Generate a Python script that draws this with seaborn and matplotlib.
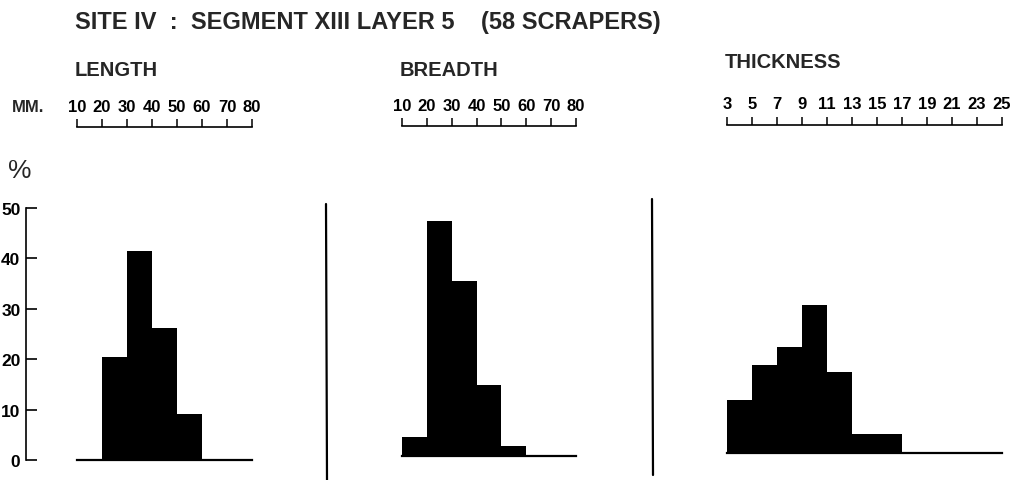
import matplotlib
matplotlib.use("Agg")
import matplotlib.pyplot as plt
from matplotlib.lines import Line2D
import seaborn as sns

# percentages of the 58 scrapers per class
length_edges = [10, 20, 30, 40, 50, 60, 70, 80]
length_pct = [0, 20.4, 41.5, 26.2, 9.1, 0, 0]

breadth_edges = [10, 20, 30, 40, 50, 60, 70, 80]
breadth_pct = [3.8, 46.7, 34.7, 14.0, 2.0, 0, 0]

thickness_edges = [3, 5, 7, 9, 11, 13, 15, 17, 19, 21, 23, 25]
thickness_pct = [10.6, 17.5, 21.0, 29.4, 16.0, 3.8, 3.8, 0, 0, 0, 0]

y_ticks = [0, 10, 20, 30, 40, 50]

title = "SITE IV  :  SEGMENT XIII LAYER 5    (58 SCRAPERS)"
panel_names = ["LENGTH", "BREADTH", "THICKNESS"]

sns.set_theme(style="white")
plt.rcParams["font.family"] = ["Liberation Sans", "DejaVu Sans"]

W, H = 1010, 481
fig = plt.figure(figsize=(W / 100, H / 100), dpi=100)

PX_PER_PCT = 5.04

# (left px, right px, baseline px, ruler px) for each panel
layout = [
    (77, 252, 461, 128),
    (402, 576, 457, 127),
    (727, 1002, 454, 125.5),
]
panels = [
    (length_edges, length_pct),
    (breadth_edges, breadth_pct),
    (thickness_edges, thickness_pct),
]

for i, ((edges, pct), (x0, x1, base, ruler)) in enumerate(zip(panels, layout)):
    ax = fig.add_axes([x0 / W, 1 - base / H, (x1 - x0) / W, (base - ruler) / H])
    mids = [(a + b) / 2 for a, b in zip(edges[:-1], edges[1:])]
    sns.histplot(x=mids, weights=pct, bins=edges, ax=ax, color="black",
                 alpha=1, linewidth=0, stat="count")
    ax.set_xlim(edges[0], edges[-1])
    ax.set_ylim(0, (base - ruler) / PX_PER_PCT)
    ax.set_xlabel("")
    ax.set_ylabel("")
    ax.grid(False)

    # ruler on top, baseline at bottom
    for s in ["top", "bottom"]:
        ax.spines[s].set_visible(True)
        ax.spines[s].set_color("black")
        ax.spines[s].set_linewidth(1.2)
    ax.spines["bottom"].set_linewidth(1.6)
    ax.spines["right"].set_visible(False)
    ax.set_xticks(edges)
    ax.set_xticklabels([str(e) for e in edges], fontweight="bold")
    ax.tick_params(axis="x", top=True, bottom=False, labeltop=True,
                   labelbottom=False, direction="out", length=5.5,
                   width=1.1, pad=4, labelsize=12, colors="black")

    if i == 0:
        ax.spines["left"].set_visible(True)
        ax.spines["left"].set_color("black")
        ax.spines["left"].set_linewidth(1.2)
        ax.spines["left"].set_position(("outward", (x0 - 26) * 0.72))
        ax.spines["left"].set_bounds(0, 50)
        ax.set_yticks(y_ticks)
        ax.set_yticklabels([str(t) for t in y_ticks], fontweight="bold")
        ax.tick_params(axis="y", left=True, direction="in", length=8,
                       width=1.2, pad=4, labelsize=12.5, colors="black")
    else:
        ax.spines["left"].set_visible(False)
        ax.set_yticks([])

    fig.text(x0 / W - 0.002, 1 - 70 / H if i < 2 else 1 - 62 / H,
             panel_names[i], fontsize=14.5, fontweight="bold",
             va="center", ha="left")

fig.text(75 / W, 1 - 23 / H, title, fontsize=17, fontweight="bold",
         va="center", ha="left")
fig.text(12 / W, 1 - 107 / H, "MM.", fontsize=12, fontweight="bold",
         va="center", ha="left")
fig.text(8 / W, 1 - 171 / H, "%", fontsize=19, va="center", ha="left")

# separators between panels
fig.add_artist(Line2D([326 / W, 327 / W], [1 - 205 / H, 0], color="black", lw=1.6))
fig.add_artist(Line2D([652 / W, 653 / W], [1 - 200 / H, 1 - 476 / H], color="black", lw=1.6))

fig.savefig("out.png", dpi=100)
